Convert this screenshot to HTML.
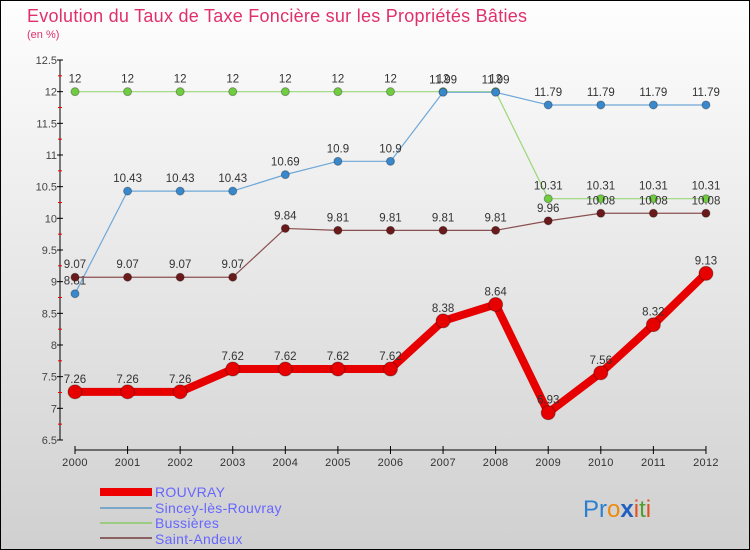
<!DOCTYPE html>
<html><head><meta charset="utf-8"><style>
body{margin:0;width:750px;height:550px;overflow:hidden;font-family:"Liberation Sans",sans-serif}
#wrap{position:absolute;left:0;top:0;width:748px;height:548px;border:1px solid #000;background:linear-gradient(#fefefe,#d0d0d0)}
</style></head><body>
<div id="wrap">
<svg id="chart" width="750" height="550" style="position:absolute;left:-1px;top:-1px">
<text x="27" y="22" font-size="18" fill="#e0306a" textLength="500" lengthAdjust="spacing">Evolution du Taux de Taxe Foncière sur les Propriétés Bâties</text>
<text x="27" y="38" font-size="11" fill="#e0306a">(en %)</text>
<g id="axes"></g><g id="series"></g>
<g>
<rect x="100" y="488" width="52" height="8" fill="#e00"/>
<text x="155" y="497" font-size="14" fill="#6666ff" letter-spacing="0.3">ROUVRAY</text>
<line x1="100" y1="508" x2="152" y2="508" stroke="#7aa6c8" stroke-width="2"/>
<text x="155" y="513" font-size="14" fill="#6666ff" letter-spacing="0.3">Sincey-lès-Rouvray</text>
<line x1="100" y1="523" x2="152" y2="523" stroke="#9ccc80" stroke-width="2"/>
<text x="155" y="528" font-size="14" fill="#6666ff" letter-spacing="0.3">Bussières</text>
<line x1="100" y1="538" x2="152" y2="538" stroke="#8a6060" stroke-width="2"/>
<text x="155" y="544" font-size="14" fill="#6666ff" letter-spacing="0.3">Saint-Andeux</text>
</g>
<text x="583" y="517" font-size="24"><tspan fill="#2a7fd0">Pr</tspan><tspan fill="#ee8a10">o</tspan><tspan fill="#2060c0" font-weight="bold">x</tspan><tspan fill="#e05020">i</tspan><tspan fill="#50a030">t</tspan><tspan fill="#e05020">i</tspan></text>
</svg></div>
<script>
const years=[2000,2001,2002,2003,2004,2005,2006,2007,2008,2009,2010,2011,2012];
const rouvray=[7.26,7.26,7.26,7.62,7.62,7.62,7.62,8.38,8.64,6.93,7.56,8.32,9.13];
const sincey=[8.81,10.43,10.43,10.43,10.69,10.9,10.9,11.99,11.99,11.79,11.79,11.79,11.79];
const bussieres=[12,12,12,12,12,12,12,12,12,10.31,10.31,10.31,10.31];
const andeux=[9.07,9.07,9.07,9.07,9.84,9.81,9.81,9.81,9.81,9.96,10.08,10.08,10.08];
const yTicks=[6.5,7,7.5,8,8.5,9,9.5,10,10.5,11,11.5,12,12.5];
const NS="http://www.w3.org/2000/svg";
const X=i=>75+i*52.58, Y=v=>60+(12.5-v)*63.33;
function mk(p,t,a){const e=document.createElementNS(NS,t);for(const k in a)e.setAttribute(k,a[k]);p.appendChild(e);return e;}
const ax=document.getElementById('axes'), sg=document.getElementById('series');
let l=mk(ax,'line',{x1:60,y1:Y(12.5),x2:60,y2:Y(6.5),stroke:'#000'});

yTicks.forEach((v,i)=>{
 mk(ax,'line',{x1:57,y1:Y(v),x2:63,y2:Y(v),stroke:'#000'});
 if(i<yTicks.length-1)mk(ax,'line',{x1:58,y1:Y(v+0.25),x2:62,y2:Y(v+0.25),stroke:'#e00'});
 const t=mk(ax,'text',{x:57,y:Y(v)+4,'font-size':11,fill:'#444','text-anchor':'end'});t.textContent=v;
 
});
l=mk(ax,'line',{x1:X(0),y1:450,x2:X(12),y2:450,stroke:'#000'});

years.forEach((y,i)=>{
 mk(ax,'line',{x1:X(i),y1:446,x2:X(i),y2:454,stroke:'#000'});
 const t=mk(ax,'text',{x:X(i),y:466,'font-size':11,fill:'#333','text-anchor':'middle','letter-spacing':0.3});t.textContent=y;
 
});
function series(vals,name,color,dot,w,r){
 const g=mk(sg,'g',{});
 
 mk(g,'polyline',{points:vals.map((v,i)=>X(i)+','+Y(v)).join(' '),fill:'none',stroke:color,'stroke-width':w,'stroke-linejoin':'round'});
 vals.forEach((v,i)=>{
  const c=mk(g,'circle',{cx:X(i),cy:Y(v),r:r,fill:dot,stroke:'rgba(0,0,0,0.3)'});
  
  const t=mk(g,'text',{x:X(i),y:Y(v)-9,'font-size':11.5,fill:'#333','text-anchor':'middle'});t.textContent=v;
  
 });
}
series(bussieres,'bussieres','#9ad77a','#70cc40',1.2,4);
series(sincey,'sincey','#6fa8d8','#3a88cc',1.2,4);
series(andeux,'saint-andeux','#8a5050','#6a1a1a',1.2,4);
series(rouvray,'rouvray','#e60000','#e60000',8,7);
</script>
</body></html>
